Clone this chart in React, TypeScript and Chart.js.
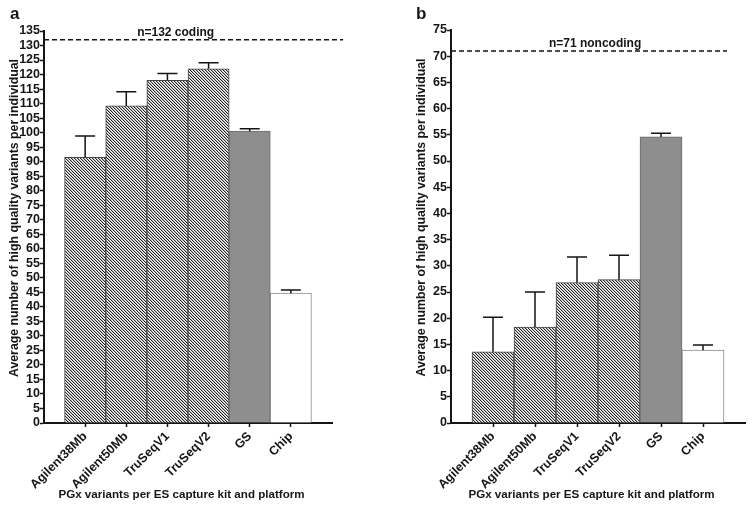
import React, { useEffect, useRef } from 'react';
import { Chart, registerables } from 'chart.js';

Chart.register(...registerables);

// ---- data ----
const categories = ['Agilent38Mb', 'Agilent50Mb', 'TruSeqV1', 'TruSeqV2', 'GS', 'Chip'];
const barKinds = ['hatch', 'hatch', 'hatch', 'hatch', 'gray', 'white'];

const codingMeans = [91.5, 109.2, 118.0, 122.0, 100.5, 44.7];
const codingErrTop = [98.8, 114.1, 120.4, 124.1, 101.3, 45.8];
const codingTotal = 132;
const codingYMax = 135;

const noncodingMeans = [13.6, 18.3, 26.8, 27.35, 54.6, 13.9];
const noncodingErrTop = [20.2, 25.0, 31.7, 32.0, 55.3, 14.9];
const noncodingTotal = 71;
const noncodingYMax = 75;

const yTitle = 'Average number of high quality variants per individual';
const xTitle = 'PGx variants per ES capture kit and platform';
const FONT = '"Liberation Sans", Arial, sans-serif';
const INK = '#151515';

function makeHatch(ctx: CanvasRenderingContext2D): CanvasPattern | string {
  const c = document.createElement('canvas');
  c.width = 3;
  c.height = 3;
  const g = c.getContext('2d');
  if (!g) return '#888';
  const img = g.createImageData(3, 3);
  for (let y = 0; y < 3; y++) {
    for (let x = 0; x < 3; x++) {
      const d = (((x - y) % 3) + 3) % 3;
      const v = d === 0 ? 35 : d === 1 ? 185 : 255;
      const k = (y * 3 + x) * 4;
      img.data[k] = v;
      img.data[k + 1] = v;
      img.data[k + 2] = v;
      img.data[k + 3] = 255;
    }
  }
  g.putImageData(img, 0, 0);
  return ctx.createPattern(c, 'repeat') || '#888';
}

const overlayPlugin = {
  id: 'overlay',
  afterDatasetsDraw(chart: any, _args: any, opts: any) {
    const { ctx, chartArea, scales } = chart;
    const x = scales.x;
    const y = scales.y;
    const meta = chart.getDatasetMeta(0);
    ctx.save();
    // error bars (upper only)
    ctx.strokeStyle = INK;
    ctx.lineWidth = 1.5;
    meta.data.forEach((bar: any, i: number) => {
      const top = y.getPixelForValue(opts.errTop[i]);
      ctx.beginPath();
      ctx.moveTo(bar.x, bar.y);
      ctx.lineTo(bar.x, top);
      ctx.moveTo(bar.x - 10, top);
      ctx.lineTo(bar.x + 10, top);
      ctx.stroke();
    });
    // dashed total line
    const ly = y.getPixelForValue(opts.total);
    ctx.setLineDash([5, 3]);
    ctx.lineWidth = 1.5;
    ctx.beginPath();
    ctx.moveTo(chartArea.left, ly);
    ctx.lineTo(x.getPixelForValue(opts.lineEnd), ly);
    ctx.stroke();
    ctx.setLineDash([]);
    ctx.fillStyle = INK;
    ctx.font = `bold 12px ${FONT}`;
    ctx.textAlign = 'center';
    ctx.textBaseline = 'alphabetic';
    ctx.fillText(opts.label, x.getPixelForValue(opts.labelX), ly - 4);
    // panel letter
    ctx.font = `bold 17px ${FONT}`;
    ctx.textAlign = 'left';
    ctx.fillText(opts.letter, opts.letterX, 19);
    // axis titles
    ctx.textAlign = 'center';
    ctx.textBaseline = 'middle';
    ctx.font = `bold 11.6px ${FONT}`;
    ctx.fillText(xTitle, (chartArea.left + chartArea.right) / 2 - 6.5, chartArea.bottom + 72);
    ctx.save();
    ctx.translate(chartArea.left - 29, (chartArea.top + chartArea.bottom) / 2 - 9);
    ctx.rotate(-Math.PI / 2);
    ctx.font = `bold 12.3px ${FONT}`;
    ctx.fillText(yTitle, 0, 0);
    ctx.restore();
    ctx.restore();
  },
};

type PanelProps = {
  means: number[];
  errTop: number[];
  total: number;
  yMax: number;
  label: string;
  letter: string;
  letterX: number;
  labelX: number;
  lineEnd: number;
  padLeft: number;
  padRight: number;
  padTop: number;
};

function Panel(p: PanelProps) {
  const ref = useRef<HTMLCanvasElement>(null);
  useEffect(() => {
    const canvas = ref.current;
    if (!canvas) return;
    const ctx = canvas.getContext('2d');
    if (!ctx) return;
    const hatch = makeHatch(ctx);
    const fills = barKinds.map((k) => (k === 'hatch' ? hatch : k === 'gray' ? '#8e8e8e' : '#ffffff'));
    const borders = barKinds.map((k) => (k === 'hatch' ? '#444' : k === 'gray' ? '#6a6a6a' : '#8a8a8a'));
    const tickFont = { family: FONT, size: 12.5, weight: 'bold' as const };
    const chart = new Chart(ctx, {
      type: 'bar',
      data: {
        datasets: [
          {
            data: categories.map((_, i) => ({ x: i, y: p.means[i] })),
            backgroundColor: fills as any,
            borderColor: borders,
            borderWidth: 1,
            barPercentage: 1,
            categoryPercentage: 1,
            borderSkipped: 'bottom',
          },
        ],
      },
      options: {
        animation: false,
        responsive: false,
        events: [],
        layout: { padding: { left: p.padLeft, right: p.padRight, top: p.padTop, bottom: 0 } },
        plugins: {
          legend: { display: false },
          tooltip: { enabled: false },
          overlay: {
            errTop: p.errTop,
            total: p.total,
            label: p.label,
            letter: p.letter,
            letterX: p.letterX,
            labelX: p.labelX,
            lineEnd: p.lineEnd,
          },
        } as any,
        scales: {
          x: {
            type: 'linear',
            min: -1,
            max: 6,
            offset: false,
            grid: {
              display: true,
              drawOnChartArea: false,
              drawTicks: true,
              tickLength: 4,
              tickWidth: 1.5,
              tickColor: INK,
              offset: false,
            },
            border: { display: true, color: INK, width: 2 },
            ticks: {
              stepSize: 1,
              autoSkip: false,
              maxRotation: 45,
              minRotation: 45,
              padding: 2,
              color: INK,
              font: tickFont,
              callback: (v: any) => categories[v as number] ?? '',
            },
            afterBuildTicks: (s: any) => {
              s.ticks = s.ticks.filter((t: any) => t.value >= 0 && t.value <= categories.length - 1);
            },
            afterFit: (s: any) => {
              s.height = 86;
            },
            title: { display: false },
          } as any,
          y: {
            min: 0,
            max: p.yMax,
            grid: {
              display: true,
              drawOnChartArea: false,
              drawTicks: true,
              tickLength: 4,
              tickWidth: 1.5,
              tickColor: INK,
            },
            border: { display: true, color: INK, width: 2 },
            ticks: { stepSize: 5, autoSkip: false, padding: 0, color: INK, font: tickFont },
            afterFit: (s: any) => {
              s.width = 44;
            },
            title: { display: false },
          } as any,
        },
      },
      plugins: [overlayPlugin],
    });
    return () => chart.destroy();
  }, []);
  return <canvas ref={ref} width={377} height={509} style={{ display: 'block', width: 377, height: 509 }} />;
}

export default function App() {
  return (
    <div style={{ position: 'absolute', left: 0, top: 0, width: 754, height: 509, display: 'flex', background: '#fff' }}>
      <Panel
        means={codingMeans}
        errTop={codingErrTop}
        total={codingTotal}
        yMax={codingYMax}
        label="n=132 coding"
        letter="a"
        letterX={10}
        labelX={2.2}
        lineEnd={6.27}
        padLeft={0}
        padRight={45}
        padTop={31}
      />
      <Panel
        means={noncodingMeans}
        errTop={noncodingErrTop}
        total={noncodingTotal}
        yMax={noncodingYMax}
        label="n=71 noncoding"
        letter="b"
        letterX={39}
        labelX={2.43}
        lineEnd={5.57}
        padLeft={30}
        padRight={9}
        padTop={30}
      />
    </div>
  );
}
